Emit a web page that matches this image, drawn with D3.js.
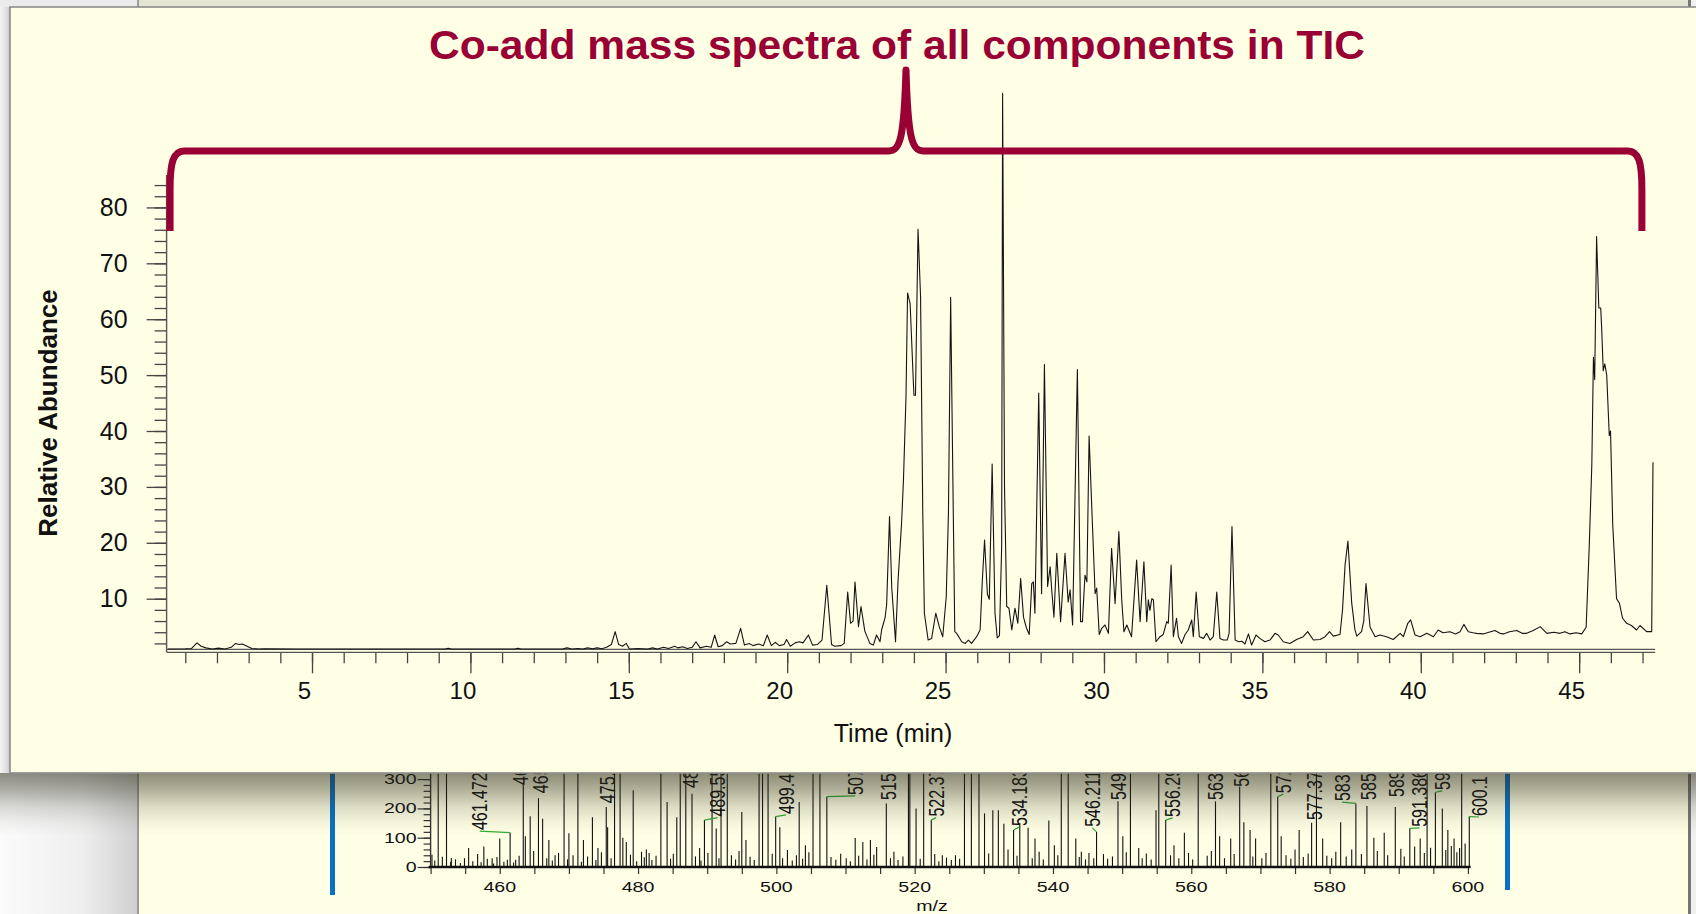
<!DOCTYPE html>
<html><head><meta charset="utf-8">
<script src="https://cdn.jsdelivr.net/npm/d3@7"></script>
<style>html,body{margin:0;padding:0;background:#fff;overflow:hidden}svg{display:block}</style>
</head><body>
<svg id="c" width="1696" height="914"></svg>
<script>
// ---------------- DATA ----------------
const titleText = "Co-add mass spectra of all components in TIC";
const yAxisTitle = "Relative Abundance";
const xAxisTitle = "Time (min)";
const timeMajorTicks = [5, 10, 15, 20, 25, 30, 35, 40, 45];
const timeMinorTicks = d3.range(1, 48, 1);
const abundMajorTicks = [10, 20, 30, 40, 50, 60, 70, 80];
const abundMinorTicks = d3.range(2, 85, 2);

// TIC trace: [time (min), relative abundance]
const chromPoints = [
[0.45,1.0],[1.0,1.05],[1.2,1.1],[1.37,2.1],[1.5,1.5],[1.65,1.2],[1.85,1.0],[2.05,1.15],[2.25,1.0],[2.45,1.3],
[2.59,2.0],[2.7,1.8],[2.8,1.9],[2.95,1.5],[3.1,1.1],[3.3,1.0],[3.5,1.05],[4.5,1.0],[6.0,1.0],[7.5,1.0],
[9.2,1.0],[9.3,1.15],[9.4,1.0],[11.4,1.0],[11.5,1.15],[11.6,1.0],[12.9,1.0],[13.05,1.2],[13.2,1.0],[13.4,1.1],
[13.55,1.0],[13.7,1.2],[13.85,1.05],[14.0,1.2],[14.15,1.05],[14.3,1.3],[14.45,1.8],[14.57,4.1],[14.68,1.8],[14.8,1.5],
[14.92,2.0],[15.02,1.0],[15.3,1.1],[15.6,1.0],[15.75,1.2],[15.9,1.0],[16.1,1.3],[16.25,1.1],[16.45,1.5],[16.55,1.2],
[16.7,1.4],[16.85,1.1],[17.0,1.3],[17.12,2.3],[17.25,1.2],[17.45,1.5],[17.6,1.3],[17.71,3.5],[17.82,1.4],[17.95,1.6],
[18.09,2.3],[18.2,1.9],[18.38,2.0],[18.53,4.7],[18.65,1.7],[18.8,2.0],[18.92,1.6],[19.1,1.9],[19.25,1.6],[19.37,3.5],
[19.5,1.6],[19.62,2.2],[19.75,1.6],[19.9,1.8],[19.98,2.7],[20.1,1.5],[20.25,2.1],[20.38,2.3],[20.5,2.1],[20.67,3.5],
[20.8,1.7],[20.95,1.8],[21.1,2.6],[21.25,12.4],[21.4,1.8],[21.5,1.5],[21.7,1.6],[21.8,2.0],[21.91,11.2],[22.0,5.6],
[22.08,6.0],[22.14,13.0],[22.25,5.0],[22.33,8.6],[22.45,4.2],[22.61,2.0],[22.72,1.7],[22.82,3.5],[22.93,2.3],[22.98,4.4],
[23.09,6.6],[23.14,9.0],[23.23,24.7],[23.3,12.0],[23.42,2.3],[23.5,13.3],[23.61,23.5],[23.67,31.2],[23.75,46.1],[23.8,64.7],
[23.88,62.8],[24.0,46.4],[24.05,46.4],[24.13,76.1],[24.21,64.0],[24.28,25.3],[24.33,7.4],[24.45,2.6],[24.56,2.9],[24.69,7.4],
[24.8,5.0],[24.91,3.2],[25.02,10.3],[25.09,25.3],[25.16,63.9],[25.23,31.2],[25.29,4.1],[25.35,3.8],[25.51,2.3],[25.62,2.0],
[25.72,2.6],[25.82,2.0],[25.98,3.2],[26.09,4.4],[26.16,13.3],[26.23,20.5],[26.32,10.8],[26.38,9.9],[26.47,34.1],[26.56,7.4],
[26.63,3.0],[26.7,3.4],[26.77,19.3],[26.8,100.4],[26.86,30.0],[26.93,8.6],[27.0,8.3],[27.09,4.4],[27.19,8.3],[27.28,5.6],
[27.37,13.6],[27.46,6.7],[27.55,4.8],[27.64,3.6],[27.72,12.7],[27.77,13.0],[27.82,7.4],[27.94,46.8],[28.03,10.9],[28.12,51.9],
[28.22,12.2],[28.3,15.7],[28.35,11.6],[28.42,6.7],[28.51,18.1],[28.63,5.9],[28.77,18.1],[28.87,9.4],[28.93,11.6],[29.01,5.3],
[29.16,51.0],[29.26,5.9],[29.32,5.9],[29.4,14.2],[29.46,13.0],[29.53,39.1],[29.61,27.0],[29.72,10.9],[29.77,11.9],[29.85,3.6],
[29.93,4.7],[30.03,5.3],[30.14,3.8],[30.24,19.0],[30.35,9.1],[30.47,22.0],[30.56,9.8],[30.63,4.1],[30.72,5.3],[30.87,3.2],
[31.03,16.9],[31.14,5.9],[31.26,16.6],[31.35,5.9],[31.4,9.8],[31.45,7.9],[31.51,10.0],[31.56,9.8],[31.64,2.3],[31.77,3.2],
[31.87,3.6],[31.98,5.9],[32.03,5.6],[32.12,16.0],[32.19,3.2],[32.29,6.5],[32.35,3.2],[32.45,2.0],[32.56,3.6],[32.66,4.4],
[32.77,6.2],[32.82,3.2],[32.91,11.2],[33.01,3.2],[33.14,2.9],[33.24,3.8],[33.35,2.6],[33.45,3.2],[33.56,11.2],[33.66,2.9],
[33.77,2.6],[33.89,2.6],[33.95,3.8],[34.04,22.9],[34.14,2.6],[34.25,2.3],[34.35,2.4],[34.45,1.9],[34.56,3.7],[34.66,1.7],
[34.8,3.5],[34.92,2.9],[35.08,2.3],[35.24,2.6],[35.4,3.8],[35.5,3.5],[35.66,2.3],[35.87,2.0],[36.08,2.7],[36.29,3.2],
[36.43,4.1],[36.61,2.6],[36.82,2.7],[36.98,3.2],[37.12,4.1],[37.24,3.3],[37.45,3.6],[37.53,8.0],[37.61,16.0],[37.7,20.3],
[37.82,9.2],[37.92,4.5],[37.98,3.3],[38.13,4.1],[38.2,6.0],[38.27,12.7],[38.4,4.9],[38.56,3.2],[38.71,3.5],[38.92,3.2],
[39.13,2.7],[39.35,3.8],[39.45,3.2],[39.59,5.6],[39.68,6.2],[39.82,3.5],[39.98,3.2],[40.19,3.8],[40.4,3.2],[40.55,4.4],
[40.7,3.9],[40.92,4.1],[41.1,3.7],[41.24,4.1],[41.36,5.4],[41.5,4.1],[41.65,3.9],[41.76,3.8],[41.97,3.7],[42.15,4.0],
[42.34,4.3],[42.5,3.8],[42.61,3.7],[42.8,4.1],[43.03,4.3],[43.2,3.8],[43.34,3.8],[43.55,4.3],[43.77,5.0],[43.98,3.8],
[44.2,4.0],[44.39,3.8],[44.55,4.1],[44.71,3.7],[44.9,3.9],[45.08,3.7],[45.22,4.9],[45.32,19.7],[45.4,34.1],[45.45,53.2],
[45.49,49.2],[45.55,74.8],[45.62,62.0],[45.68,62.0],[45.71,58.4],[45.76,50.8],[45.81,52.0],[45.87,50.0],[45.95,39.2],[45.99,40.0],
[46.06,23.2],[46.18,10.0],[46.27,9.2],[46.37,6.5],[46.5,5.6],[46.65,5.2],[46.81,4.4],[46.92,5.2],[47.13,4.1],[47.29,4.1],
[47.33,34.4]
];

// Bracket annotation in data units
const bracketTimes = [0.52, 23.75, 46.98];   // left end, tip, right end
const bracketLevels = [75.8, 90.1, 104.6];   // ends, bar, tip

// Background mass spectrum (m/z, intensity)
const msXMajorTicks = [460, 480, 500, 520, 540, 560, 580, 600];
const msXMinorTicks = d3.range(450, 601, 5);
const msYMajorTicks = [0, 100, 200, 300];
const msYMinorTicks = d3.range(0, 301, 20);
const msPeaks = [
[450.2,42],[451.1,600],[452.3,600],[453.0,31],[455.5,65],[457.7,70],[458.9,30],[460.0,97],[461.5,117],[462.3,25],
[463.4,287],[463.7,105],[464.4,173],[465.6,235],[466.2,165],[467.1,92],[468.0,40],[469.3,600],[470.0,115],[471.3,600],
[472.1,92],[473.4,170],[474.2,65],[475.4,205],[475.6,136],[476.6,600],[477.4,600],[477.8,100],[478.3,85],[479.3,262],
[480.5,52],[481.6,48],[483.3,600],[484.2,222],[485.6,170],[486.1,600],[486.9,600],[487.8,250],[488.9,65],[489.6,160],
[490.7,600],[491.3,131],[492.0,600],[492.9,600],[495.0,188],[495.6,92],[497.5,600],[498.0,600],[498.8,600],[499.9,172],
[500.5,136],[503.3,222],[504.2,74],[505.3,600],[506.3,600],[507.3,240],[511.4,99],[512.5,85],[513.6,92],[514.5,68],
[515.9,217],[517.0,52],[519.1,600],[519.3,600],[520.2,200],[521.3,600],[522.4,160],[524.0,40],[527.2,600],[528.2,600],
[529.3,600],[530.1,183],[531.3,194],[532.1,194],[532.9,148],[534.3,126],[535.2,150],[536.4,134],[537.4,97],[539.4,159],
[540.2,74],[541.2,600],[542.2,600],[543.3,97],[544.1,52],[546.3,120],[549.4,224],[550.1,105],[551.2,600],[552.4,65],
[554.9,194],[555.3,600],[556.3,160],[557.5,74],[559.0,117],[561.0,600],[563.5,224],[564.1,105],[565.7,97],[567.0,275],
[567.6,153],[568.5,126],[569.3,97],[571.5,600],[572.5,240],[573.0,105],[575.6,126],[577.4,151],[578.1,600],[579.0,97],
[581.6,153],[583.8,217],[585.4,208],[586.4,100],[587.9,117],[589.5,205],[591.6,132],[593.1,97],[594.1,600],[595.3,255],
[596.3,200],[597.1,126],[598.0,97],[598.8,65],[599.1,600],[600.2,172]
];
const msNoise = [
[450.6,22],[451.7,35],[452.9,18],[453.6,26],[454.3,14],[454.9,30],[456.1,20],[456.8,44],[457.3,16],[458.2,28],
[459.1,12],[459.6,34],[460.6,18],[461.1,25],[462.0,15],[462.8,38],[464.9,55],[466.8,30],[467.6,22],[468.5,48],
[469.8,26],[470.6,40],[471.8,18],[472.7,36],[473.9,24],[474.7,50],[476.1,30],[478.9,42],[479.8,20],[480.9,33],
[481.2,60],[482.0,24],[482.6,38],[484.7,28],[485.1,45],[488.3,36],[489.1,22],[490.1,48],[491.7,30],[493.5,40],
[494.1,26],[494.6,55],[496.2,35],[496.8,24],[499.4,45],[500.9,30],[501.6,58],[502.3,22],[502.9,40],[503.8,28],
[504.7,50],[507.9,34],[508.6,25],[509.3,45],[510.1,30],[510.7,20],[511.9,38],[513.1,26],[514.1,42],[516.5,30],
[517.6,24],[518.3,36],[520.8,28],[522.9,44],[523.5,20],[524.6,32],[525.3,24],[525.9,40],[526.5,28],[530.7,46],
[533.5,60],[534.8,38],[537.0,30],[538.0,52],[538.6,26],[540.7,40],[543.8,34],[544.7,26],[545.2,48],[545.9,30],
[547.3,44],[547.9,28],[548.6,36],[550.6,50],[552.9,30],[553.5,46],[554.2,26],[557.0,40],[558.2,30],[559.6,48],
[560.2,26],[562.3,38],[562.9,55],[564.8,30],[566.2,44],[568.9,36],[570.2,30],[570.8,48],[573.7,40],[574.4,28],
[575.0,60],[576.2,34],[576.9,46],[579.6,38],[580.3,30],[580.9,52],[582.4,36],[583.2,60],[584.6,44],[586.9,55],
[588.4,40],[590.3,62],[590.8,36],[592.3,70],[593.7,48],[594.6,66],[596.8,58],[597.6,72],[598.4,50],[599.6,80]
];
// labelled peaks: [peak m/z, peak intensity, label, label m/z position, label foot intensity]
const msLabels = [
[461.5,117,"461.472",457.1,126],[463.4,287,"463.412",463.0,280],[465.6,235,"465.41",465.8,252],
[475.4,205,"475.39",475.6,218],[487.8,250,"487.82",487.6,270],[489.6,160,"489.55",491.5,172],
[499.9,172,"499.42",501.4,181],[507.3,240,"507.33",511.4,246],[515.9,217,"515.9",516.2,229],
[522.4,160,"522.37",523.1,172],[534.3,126,"534.183",535.1,140],[546.3,120,"546.211",545.7,137],
[549.4,224,"549.3",549.4,229],[556.3,160,"556.29",557.3,171],[563.5,224,"563.4",563.5,229],
[567.0,275,"567.1",567.2,274],[572.5,240,"572.5",573.3,252],[577.4,151,"577.37",577.8,160],
[583.8,217,"583.7",581.8,225],[585.4,208,"585.4",585.6,229],[589.5,205,"589.5",589.7,239],
[591.6,132,"591.386",593.0,137],[595.3,255,"595.3",596.3,263],[600.2,172,"600.1",601.6,174]
];
const msXTitle = "m/z";

// ---------------- DRAW ----------------
const FONT = "'Liberation Sans', Arial, Helvetica, sans-serif";
const svg = d3.select("#c");
const defs = svg.append("defs");

const sg = defs.append("linearGradient").attr("id","shadowG").attr("x1",0).attr("y1",0).attr("x2",0).attr("y2",1);
[[0,0.54],[0.25,0.38],[0.55,0.16],[0.8,0.05],[1,0]].forEach(s=>sg.append("stop").attr("offset",s[0]).attr("stop-color","#2a2a18").attr("stop-opacity",s[1]));
const lg = defs.append("linearGradient").attr("id","leftG").attr("x1",0).attr("y1",0).attr("x2",1).attr("y2",0);
[[0,"#fbfbfb"],[0.6,"#eeeeee"],[1,"#cfcfcf"]].forEach(s=>lg.append("stop").attr("offset",s[0]).attr("stop-color",s[1]));
const lsg = defs.append("linearGradient").attr("id","leftShadowG").attr("x1",0).attr("y1",0).attr("x2",1).attr("y2",0);
[[0,"#f4f4f4"],[0.7,"#dcdcdc"],[1,"#c4c4c4"]].forEach(s=>lsg.append("stop").attr("offset",s[0]).attr("stop-color",s[1]));

svg.append("rect").attr("width",1696).attr("height",914).attr("fill","#ffffff");
svg.append("rect").attr("x",0).attr("y",0).attr("width",138).attr("height",914).attr("fill","url(#leftG)");

// ---- lower (background) window ----
const lower = svg.append("g");
lower.append("rect").attr("x",138).attr("y",-5).attr("width",1551).attr("height",930)
  .attr("fill","#FFFFE6").attr("stroke","#9a9a9a").attr("stroke-width",2);
lower.append("rect").attr("x",139).attr("y",0).attr("width",1549).attr("height",7).attr("fill","#e5e5d3");
lower.append("rect").attr("x",1688).attr("y",0).attr("width",3).attr("height",914).attr("fill","#777");
lower.append("rect").attr("x",1691).attr("y",0).attr("width",5).attr("height",914).attr("fill","#f0f0f0");

const xMs = d3.scaleLinear().domain([450, 600]).range([430.6, 1467.9]);
const yMs = d3.scaleLinear().domain([0, 300]).range([867, 779.1]);

lower.append("rect").attr("x",330).attr("y",773).attr("width",5).attr("height",122).attr("fill","#0a72c4");
lower.append("rect").attr("x",1505).attr("y",773).attr("width",5).attr("height",117).attr("fill","#0a72c4");

lower.append("g").selectAll("line").data(msNoise.concat(msPeaks)).join("line")
  .attr("x1",d=>xMs(d[0])).attr("x2",d=>xMs(d[0]))
  .attr("y1",yMs(0)).attr("y2",d=>yMs(d[1]))
  .attr("stroke","#111").attr("stroke-width",1.1);

const msYAxisMinor = d3.axisLeft(yMs).tickValues(msYMinorTicks).tickSize(7).tickFormat("");
const msYAxisMajor = d3.axisLeft(yMs).tickValues(msYMajorTicks).tickSize(13).tickFormat("");
[msYAxisMinor, msYAxisMajor].forEach(a=>{
  const g = lower.append("g").attr("transform",`translate(${xMs(450)},0)`).call(a.tickSizeOuter(0));
  g.select(".domain").remove();
  g.selectAll("line").attr("stroke","#333").attr("stroke-width",1.2);
});
lower.append("line").attr("x1",xMs(450)).attr("x2",xMs(450)).attr("y1",yMs(0)).attr("y2",765).attr("stroke","#333").attr("stroke-width",1.4);
lower.append("g").selectAll("text").data(msYMajorTicks).join("text")
  .attr("transform",d=>`translate(${xMs(450)-14},${yMs(d)}) scale(1.4,1)`)
  .attr("text-anchor","end").attr("dy","0.36em")
  .style("font-family",FONT).style("font-size","14px").attr("fill","#111").text(d=>d);

const msXAxis = d3.axisBottom(xMs).tickValues(msXMinorTicks).tickSize(7).tickFormat("").tickSizeOuter(0);
const gmx = lower.append("g").attr("transform",`translate(0,${yMs(0)})`).call(msXAxis);
gmx.select(".domain").remove();
gmx.selectAll("line").attr("stroke","#333").attr("stroke-width",1.2);
lower.append("line").attr("x1",xMs(450)-2).attr("x2",xMs(600.4)).attr("y1",yMs(0)).attr("y2",yMs(0)).attr("stroke","#111").attr("stroke-width",2.5);
lower.append("g").selectAll("text").data(msXMajorTicks).join("text")
  .attr("transform",d=>`translate(${xMs(d)},${yMs(0)+25}) scale(1.4,1)`)
  .attr("text-anchor","middle")
  .style("font-family",FONT).style("font-size","14px").attr("fill","#111").text(d=>d);
lower.append("text").attr("transform",`translate(${xMs(522.5)},${yMs(0)+44}) scale(1.4,1)`)
  .attr("text-anchor","middle").style("font-family",FONT).style("font-size","14px").attr("fill","#111").text(msXTitle);

lower.append("g").selectAll("line").data(msLabels.filter(d=>Math.abs(xMs(d[3])-xMs(d[0]))>3)).join("line")
  .attr("x1",d=>xMs(d[3])).attr("y1",d=>yMs(d[4])+1)
  .attr("x2",d=>xMs(d[0])).attr("y2",d=>yMs(d[1]))
  .attr("stroke","#33aa33").attr("stroke-width",1.2);
lower.append("g").selectAll("text").data(msLabels).join("text")
  .attr("transform",d=>`translate(${xMs(d[3])},${yMs(d[4])}) scale(1.35,1) rotate(-90)`)
  .attr("text-anchor","start").attr("dy","0.36em")
  .style("font-family",FONT).style("font-size","16px").attr("fill","#111").text(d=>d[2]);

// shadow of top window
svg.append("rect").attr("x",0).attr("y",773).attr("width",1696).attr("height",62).attr("fill","url(#shadowG)");
svg.append("rect").attr("x",0).attr("y",7).attr("width",10).attr("height",766).attr("fill","url(#leftShadowG)");
svg.append("rect").attr("x",0).attr("y",0).attr("width",137).attr("height",7).attr("fill","#ebebeb");
svg.append("line").attr("x1",137.5).attr("x2",137.5).attr("y1",0).attr("y2",7).attr("stroke","#a0a0a0");

// ---- top window ----
svg.append("rect").attr("x",10).attr("y",7).attr("width",1700).attr("height",766)
  .attr("fill","#FFFFE6").attr("stroke","#8c8c8c").attr("stroke-width",1.6);

const topG = svg.append("g");
const x = d3.scaleLinear().domain([0.41, 47.4]).range([166.6, 1655.2]);
const y = d3.scaleLinear().domain([1, 85.8]).range([649, 175]);

const yMinor = d3.axisLeft(y).tickValues(abundMinorTicks).tickSize(12).tickFormat("").tickSizeOuter(0);
const yMajor = d3.axisLeft(y).tickValues(abundMajorTicks).tickSize(20).tickPadding(19).tickFormat(d3.format("d")).tickSizeOuter(0);
[yMinor, yMajor].forEach(a=>{
  const g = topG.append("g").attr("transform",`translate(${x(0.41)},0)`).call(a);
  g.select(".domain").remove();
  g.selectAll("line").attr("stroke","#444").attr("stroke-width",1.3);
  g.selectAll("text").style("font-family",FONT).style("font-size","25px").attr("fill","#111");
});
topG.append("line").attr("x1",x(0.41)).attr("x2",x(0.41)).attr("y1",175).attr("y2",652.3).attr("stroke","#555").attr("stroke-width",1.4);

topG.append("line").attr("x1",x(0.41)).attr("x2",x(47.4)).attr("y1",649.3).attr("y2",649.3).attr("stroke","#555").attr("stroke-width",1.3);
const xMinor = d3.axisBottom(x).tickValues(timeMinorTicks).tickSize(11).tickFormat("").tickSizeOuter(0);
const xMajor = d3.axisBottom(x).tickValues(timeMajorTicks).tickSize(21).tickPadding(9).tickFormat(d3.format("d")).tickSizeOuter(0);
[xMinor, xMajor].forEach(a=>{
  const g = topG.append("g").attr("transform","translate(0,652.3)").call(a);
  g.select(".domain").remove();
  g.selectAll("line").attr("stroke","#444").attr("stroke-width",1.3);
  g.selectAll("text").attr("dx","-8").style("font-family",FONT).style("font-size","24px").attr("fill","#111");
});
topG.append("line").attr("x1",x(0.41)).attr("x2",x(47.4)).attr("y1",652.3).attr("y2",652.3).attr("stroke","#555").attr("stroke-width",1.3);

const line = d3.line().x(d=>x(d[0])).y(d=>y(d[1]));
topG.append("path").datum(chromPoints).attr("d",line)
  .attr("fill","none").attr("stroke","#151515").attr("stroke-width",1.1).attr("stroke-linejoin","round");

topG.append("text").attr("transform",`translate(48,${(y(1)+y(85.8))/2 + 1}) rotate(-90)`)
  .attr("text-anchor","middle").attr("dy","0.35em")
  .style("font-family",FONT).style("font-size","26px").style("font-weight","bold").attr("fill","#111").text(yAxisTitle);
topG.append("text").attr("x",893).attr("y",742).attr("text-anchor","middle")
  .style("font-family",FONT).style("font-size","25px").attr("fill","#111").text(xAxisTitle);

const bl = x(bracketTimes[0]), bm = x(bracketTimes[1]), br = x(bracketTimes[2]);
const yEnd = y(bracketLevels[0]), yBar = y(bracketLevels[1]), yTip = y(bracketLevels[2]);
const p = d3.path();
p.moveTo(bl, yEnd);
p.lineTo(bl, yBar + 38);
p.bezierCurveTo(bl, yBar + 12, bl + 3, yBar, bl + 14, yBar);
p.lineTo(bm - 17, yBar);
p.bezierCurveTo(bm - 6, yBar, bm - 2, yBar - 12, bm, yTip);
p.bezierCurveTo(bm + 2, yBar - 12, bm + 6, yBar, bm + 17, yBar);
p.lineTo(br - 14, yBar);
p.bezierCurveTo(br - 3, yBar, br, yBar + 12, br, yBar + 38);
p.lineTo(br, yEnd);
topG.append("path").attr("d",p.toString()).attr("fill","none")
  .attr("stroke","#990033").attr("stroke-width",7).attr("stroke-linejoin","round");

topG.append("text").attr("x",897).attr("y",59).attr("text-anchor","middle")
  .attr("textLength",936).attr("lengthAdjust","spacingAndGlyphs")
  .style("font-family",FONT).style("font-size","41px").style("font-weight","bold").attr("fill","#990033").text(titleText);
</script>
</body></html>
